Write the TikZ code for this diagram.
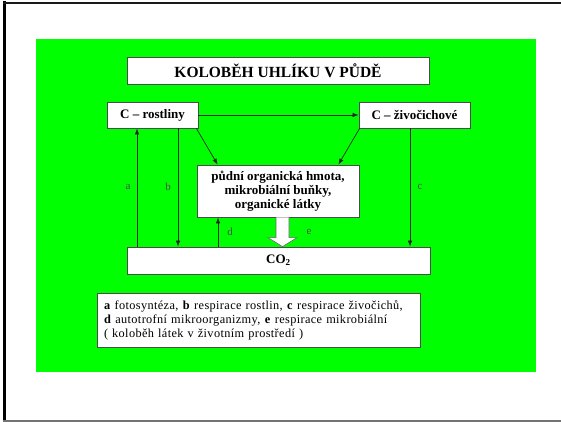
\documentclass[tikz,border=0pt]{standalone}
\usepackage{fontspec}
\setmainfont{Liberation Serif}
\usetikzlibrary{arrows.meta,calc}
\definecolor{leaf}{RGB}{0,255,0}
\begin{document}
\begin{tikzpicture}[x=1pt,y=-1pt,
  box/.style={draw=black!70,line width=0.8pt,fill=white,inner sep=0pt,align=center,font=\bfseries\fontsize{13}{14}\selectfont},
  flow/.style={draw=black!85,line width=0.7pt,-{Latex[length=6pt,width=4.5pt]}},
  lab/.style={text=black!70,font=\fontsize{11}{12}\selectfont,inner sep=0pt}]
\useasboundingbox (0,0) rectangle (561,422);
% slide frame
\draw[line width=3pt,black] (4.5,1.5) -- (4.5,422);
\draw[line width=2.5pt,black!90] (3,2.8) -- (561,2.8);
\draw[line width=2pt,black!55] (3,421) -- (561,421);
% green panel
\fill[leaf] (36,39) rectangle (536,372);

% boxes
\node[box,minimum width=302pt,minimum height=27pt,font=\bfseries\fontsize{15.5}{17}\selectfont] (title) at (278,70.5) {KOLOBĚH UHLÍKU V PŮDĚ};
\node[box,minimum width=91pt,minimum height=26pt] (rost) at (152.5,115) {C -- rostliny};
\node[box,minimum width=111pt,minimum height=26pt] (ziv) at (414.5,115) {C -- živočichové};
\node[box,minimum width=162pt,minimum height=52pt] (hmota) at (278,191) {půdní organická hmota,\\mikrobiální buňky,\\organické látky};
\node[box,minimum width=303pt,minimum height=27pt] (co) at (278.5,260.5) {CO\textsubscript{2}};
\node[box,minimum width=323pt,minimum height=54pt,align=left,text width=309pt,
  font=\fontsize{12.3}{14}\selectfont\addfontfeature{LetterSpace=3}] (leg) at (258.5,320)
  {\textbf{a} fotosyntéza, \textbf{b} respirace rostlin, \textbf{c} respirace živočichů,\\
   \textbf{d} autotrofní mikroorganizmy, \textbf{e} respirace mikrobiální\\
   ( koloběh látek v životním prostředí )};

% x positions of the vertical flows
\coordinate (xa) at (137,0);
\coordinate (xb) at (178,0);
\coordinate (xc) at (410,0);
\coordinate (xd) at (218,0);
\coordinate (xe) at (282.5,0);

% flows between the pools
\draw[flow] (rost.east) -- (ziv.west);
\draw[flow] ($(rost.south east)+(-2,0)$) -- ($(hmota.north west)+(21,0)$);
\draw[flow] ($(ziv.south west)+(1,0)$) -- ($(hmota.north east)+(-21,0)$);
\draw[flow] (co.north -| xa) -- (rost.south -| xa);
\draw[flow] (rost.south -| xb) -- (co.north -| xb);
\draw[flow] (ziv.south -| xc) -- (co.north -| xc);
\draw[flow] (co.north -| xd) -- (hmota.south -| xd);

% block arrow e
\draw[draw=black!60,line width=0.6pt,fill=white]
  ($(hmota.south -| xe)+(-6.5,0)$) -- ($(co.north -| xe)+(-6.5,-9)$) -- ($(co.north -| xe)+(-14.5,-9)$)
  -- (co.north -| xe) -- ($(co.north -| xe)+(14.5,-9)$) -- ($(co.north -| xe)+(6.5,-9)$)
  -- ($(hmota.south -| xe)+(6.5,0)$);

% flow labels
\node[lab] (la) at (128,187) {a};
\node[lab] (lb) at (168,187) {b};
\node[lab] (lc) at (420,187) {c};
\node[lab] (ld) at (230,232) {d};
\node[lab] (le) at (309,232) {e};
\end{tikzpicture}
\end{document}
